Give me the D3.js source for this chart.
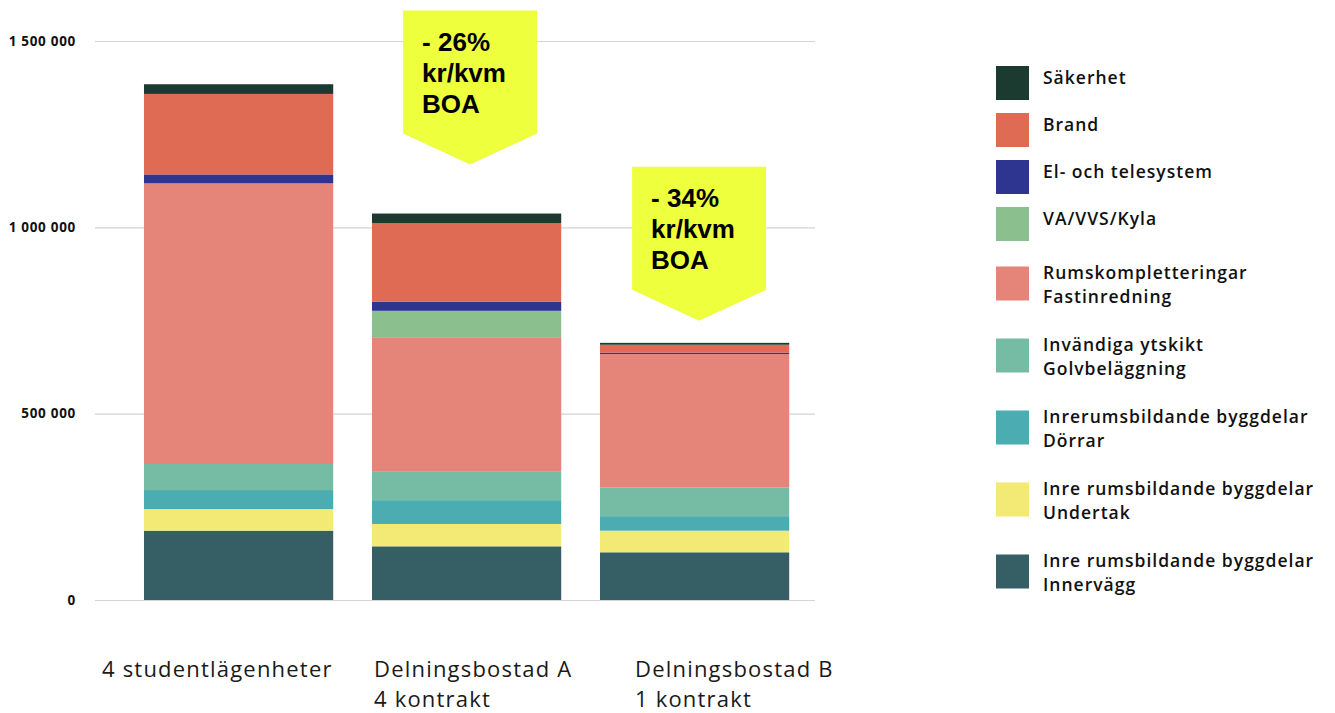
<!DOCTYPE html>
<html>
<head>
<meta charset="utf-8">
<script src="https://cdn.jsdelivr.net/npm/d3@7"></script>
<style>
  body { margin: 0; background: #fff; }
  .tick text { font-family: "Open Sans", sans-serif; font-weight: 700; font-size: 13.5px; letter-spacing: 0.7px; fill: #111; }
  .legend text { font-family: "Open Sans", sans-serif; font-weight: 600; font-size: 17.5px; letter-spacing: 1px; fill: #111; }
  .xlabel { font-family: "Open Sans", sans-serif; font-size: 22px; letter-spacing: 1.2px; fill: #1a1a1a; }
  .callout text { font-family: "Liberation Sans", Arial, sans-serif; font-weight: 700; font-size: 26px; fill: #000; }
</style>
</head>
<body>
<svg id="chart" width="1335" height="713"></svg>
<script>
// categories (bars)
var categories = ["4 studentlägenheter", "Delningsbostad A", "Delningsbostad B"];
var categoryLines = [["4 studentlägenheter"], ["Delningsbostad A", "4 kontrakt"], ["Delningsbostad B", "1 kontrakt"]];

// series, bottom to top of the stack
var seriesKeys = ["innervagg", "undertak", "dorrar", "invandiga", "rums", "vvs", "el", "brand", "sakerhet"];
var innervagg = [186000, 144000, 128000];
var undertak  = [58000, 60000, 58000];
var dorrar    = [51000, 64000, 39000];
var invandiga = [70000, 76000, 77000];
var rums      = [753000, 361000, 358000];
var vvs       = [0, 71000, 0];
var el        = [24000, 24000, 4000];
var brand     = [216000, 211000, 21000];
var sakerhet  = [26000, 26000, 5000];

// legend, top to bottom
var legendKeys = ["sakerhet", "brand", "el", "vvs", "rums", "invandiga", "dorrar", "undertak", "innervagg"];
var legendLabels = [
  ["Säkerhet"], ["Brand"], ["El- och telesystem"], ["VA/VVS/Kyla"],
  ["Rumskompletteringar", "Fastinredning"], ["Invändiga ytskikt", "Golvbeläggning"],
  ["Inrerumsbildande byggdelar", "Dörrar"], ["Inre rumsbildande byggdelar", "Undertak"],
  ["Inre rumsbildande byggdelar", "Innervägg"]
];

// callouts
var calloutCategories = ["Delningsbostad A", "Delningsbostad B"];
var calloutTexts = [["- 26%", "kr/kvm", "BOA"], ["- 34%", "kr/kvm", "BOA"]];

var yTicks = [0, 500000, 1000000, 1500000];

var colors = {
  sakerhet: "#1b3a30", brand: "#e06b55", el: "#2e3590", vvs: "#8bc08e",
  rums: "#e58478", invandiga: "#76bba3", dorrar: "#4badb2",
  undertak: "#f2ea74", innervagg: "#355e65"
};

var seriesValues = { innervagg: innervagg, undertak: undertak, dorrar: dorrar, invandiga: invandiga,
  rums: rums, vvs: vvs, el: el, brand: brand, sakerhet: sakerhet };

var table = categories.map(function(c, i) {
  var row = { category: c };
  seriesKeys.forEach(function(k) { row[k] = seriesValues[k][i]; });
  return row;
});

var svg = d3.select("#chart");

var x = d3.scaleBand()
  .domain(categories)
  .range([124.6, 808.6])
  .paddingInner(0.17)
  .paddingOuter(0.085);

var y = d3.scaleLinear()
  .domain([0, 1500000])
  .range([600, 41]);

// grid + y labels
var yAxis = d3.axisLeft(y)
  .tickValues(yTicks)
  .tickSize(-720)
  .tickPadding(19)
  .tickFormat(function(d) { return d3.format(",d")(d).replace(/,/g, " "); });

svg.append("g")
  .attr("class", "y axis")
  .attr("transform", "translate(95,0)")
  .call(yAxis)
  .call(function(g) { g.select(".domain").remove(); })
  .call(function(g) { g.selectAll(".tick line").attr("stroke", "#d4d4d4").attr("stroke-width", 1.2); });

// stacked bars
var stack = d3.stack().keys(seriesKeys);
var layers = stack(table);

svg.append("g")
  .selectAll("g")
  .data(layers)
  .enter().append("g")
    .attr("fill", function(d) { return colors[d.key]; })
  .selectAll("rect")
  .data(function(d) { return d; })
  .enter().append("rect")
    .attr("x", function(d) { return x(d.data.category); })
    .attr("width", x.bandwidth())
    .attr("y", function(d) { return y(d[1]); })
    .attr("height", function(d) { return y(d[0]) - y(d[1]); });

// x labels
var labelShift = [-42, 2, 35];
categoryLines.forEach(function(lines, i) {
  var lx = x(categories[i]) + labelShift[i];
  lines.forEach(function(line, j) {
    svg.append("text")
      .attr("class", "xlabel")
      .attr("x", lx)
      .attr("y", 677 + j * 30)
      .text(line);
  });
});

// callouts
var totals = table.map(function(r) { return d3.sum(seriesKeys, function(k) { return r[k]; }); });
var tipShift = [3.5, 4.5];
var tipGap = [49, 22];
calloutCategories.forEach(function(c, i) {
  var idx = categories.indexOf(c);
  var tipX = x(c) + x.bandwidth() / 2 + tipShift[i];
  var tipY = y(totals[idx]) - tipGap[i];
  var w = 134, body = 123, arrow = 31;
  var left = tipX - w / 2, top = tipY - arrow - body;
  var g = svg.append("g").attr("class", "callout");
  g.append("path")
    .attr("fill", "#edff3d")
    .attr("d", "M" + left + "," + top + "H" + (left + w) + "V" + (top + body) +
      "L" + tipX + "," + tipY + "L" + left + "," + (top + body) + "Z");
  calloutTexts[i].forEach(function(line, j) {
    g.append("text")
      .attr("x", left + 19)
      .attr("y", top + 40 + j * 31)
      .text(line);
  });
});

// legend
var legend = svg.append("g").attr("class", "legend");
var ly = 66;
legendKeys.forEach(function(k, i) {
  var lines = legendLabels[i];
  var g = legend.append("g");
  g.append("rect")
    .attr("x", 996).attr("y", ly)
    .attr("width", 33).attr("height", 34)
    .attr("fill", colors[k]);
  var cy = ly + 17;
  lines.forEach(function(line, j) {
    g.append("text")
      .attr("x", 1043)
      .attr("y", lines.length === 1 ? cy + 1 : cy - 5 + j * 24)
      .text(line);
  });
  var next = legendLabels[i + 1];
  if (next) ly += 47 + 12.5 * ((lines.length - 1) + (next.length - 1));
});
</script>
</body>
</html>
